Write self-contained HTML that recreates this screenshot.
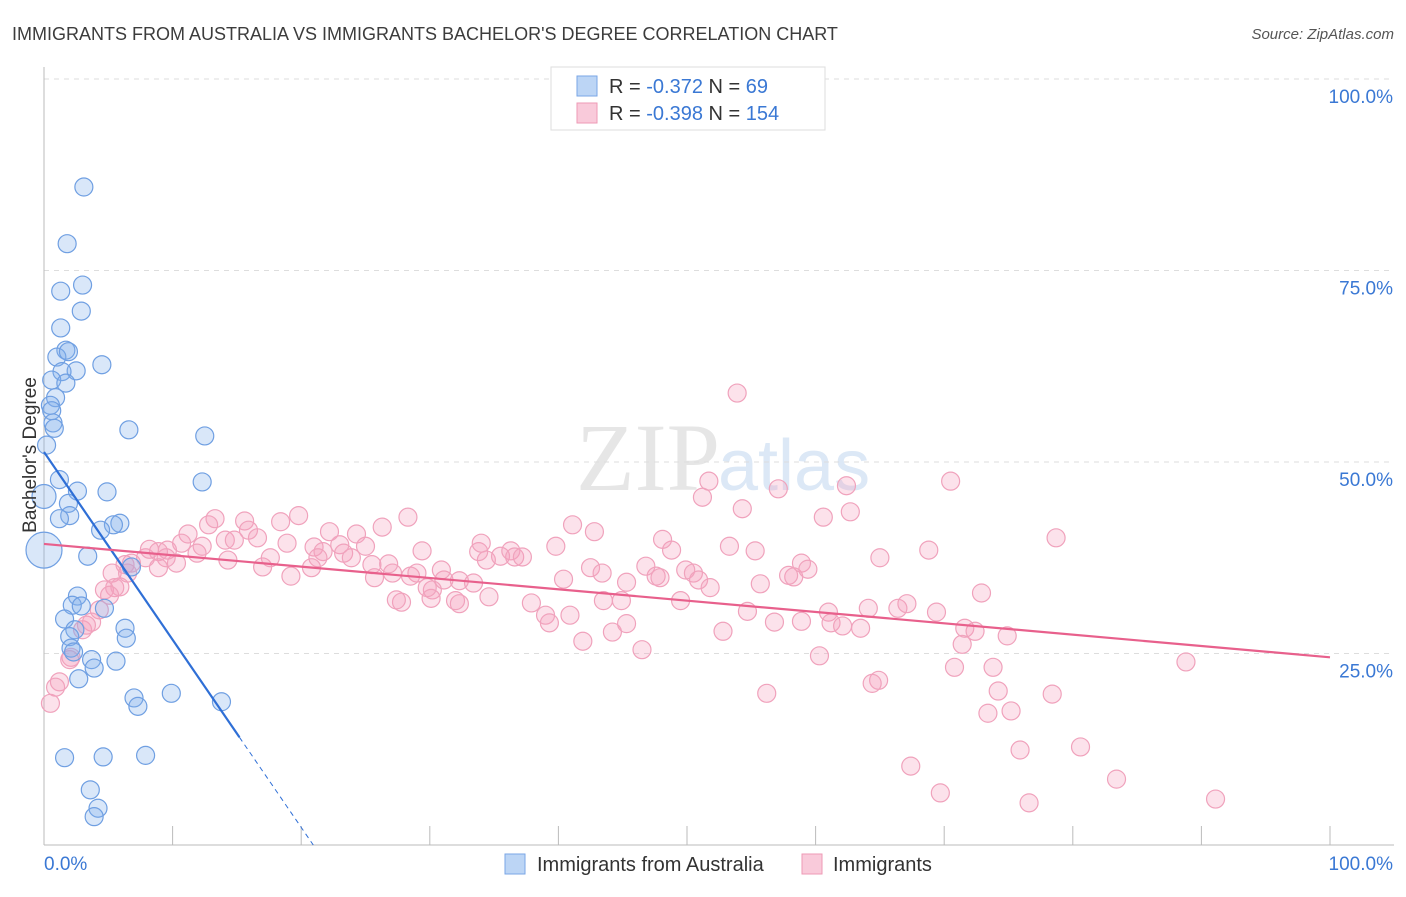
<!DOCTYPE html>
<html><head><meta charset="utf-8"><style>
body{margin:0;background:#fff;font-family:"Liberation Sans",sans-serif;}
</style></head><body>
<svg id="chart" width="1406" height="892" xmlns="http://www.w3.org/2000/svg" style="font-family:'Liberation Sans',sans-serif">
<text x="12" y="40" font-size="18" fill="#3c3c3c">IMMIGRANTS FROM AUSTRALIA VS IMMIGRANTS BACHELOR'S DEGREE CORRELATION CHART</text>
<text x="1394" y="39" font-size="15" fill="#555" text-anchor="end" font-style="italic">Source: ZipAtlas.com</text>
<text x="720" y="490" font-size="96" fill="#e6e6e6" text-anchor="end" font-family="Liberation Serif,serif">ZIP</text>
<text x="718" y="490" font-size="72" fill="#dce8f6">atlas</text>
<g id="grid"></g><g id="axes"></g><g id="pink"></g><g id="blue"></g><g id="lines"></g>
<text x="36" y="455" font-size="19" fill="#333" text-anchor="middle" transform="rotate(-90 36 455)">Bachelor's Degree</text>
<g>
<rect x="551" y="67" width="274" height="63" fill="#fff" stroke="#ddd"/>
<rect x="577" y="76" width="20" height="20" fill="#bcd5f5" stroke="#7aa6e6"/>
<rect x="577" y="103" width="20" height="20" fill="#f9cada" stroke="#ee9ab5"/>
<text x="609" y="93" font-size="20" fill="#333">R = <tspan fill="#3a78d4">-0.372</tspan>   N = <tspan fill="#3a78d4"> 69</tspan></text>
<text x="609" y="120" font-size="20" fill="#333">R = <tspan fill="#3a78d4">-0.398</tspan>   N = <tspan fill="#3a78d4">154</tspan></text>
</g>
<g>
<rect x="505" y="854" width="20" height="20" fill="#bcd5f5" stroke="#7aa6e6"/>
<text x="537" y="871" font-size="20" fill="#333">Immigrants from Australia</text>
<rect x="802" y="854" width="20" height="20" fill="#f9cada" stroke="#ee9ab5"/>
<text x="833" y="871" font-size="20" fill="#333">Immigrants</text>
</g>
</svg>
<script>
const yTicks=[25,50,75,100];
const yTickLabels=["25.0%","50.0%","75.0%","100.0%"];
const xTicks=[0,10,20,30,40,50,60,70,80,90,100];
const blueX=[3.1,1.8,1.3,3.0,2.9,1.3,1.7,1.0,1.9,2.5,1.4,4.5,0.6,1.7,0.9,0.5,0.6,0.7,0.8,6.6,12.5,0.2,1.2,12.3,2.6,4.9,1.9,2.0,1.2,5.9,5.4,4.4,0,3.4,6.8,2.6,2.2,2.9,4.7,1.6,6.3,2.4,2.0,6.4,2.1,2.3,3.7,5.6,3.9,2.7,7.0,7.3,9.9,13.8,1.6,4.6,7.9,3.6,4.2,3.9,0];
const blueY=[85.9,78.5,72.3,73.1,69.7,67.5,64.6,63.7,64.4,61.9,61.8,62.7,60.7,60.3,58.4,57.4,56.7,55.1,54.4,54.2,53.4,52.2,47.7,47.4,46.2,46.1,44.6,43.0,42.6,42.0,41.8,41.1,38.5,37.7,36.3,32.5,31.3,31.2,30.9,29.5,28.3,28.1,27.2,27.0,25.7,25.2,24.2,24.0,23.1,21.7,19.2,18.1,19.8,18.7,11.4,11.5,11.7,7.2,4.8,3.7,45.5];
const blueSize=blueX.map((v,i)=>i===32?18:(i===60?12:9));
const pinkX=[53.9,51.7,51.2,70.5,57.1,62.4,54.3,62.7,60.6,78.7,41.1,42.8,28.3,26.3,19.8,13.3,15.6,15.9,12.8,18.4,11.2,14.1,14.8,22.2,24.3,21.0,23.0,23.3,25.0,16.6,18.9,12.3,10.7,11.9,9.6,8.9,7.9,8.2,10.3,14.3,9.5,17.0,17.6,21.7,21.3,23.9,25.5,26.8,29.4,27.1,25.7,19.2,20.8,29.0,30.9,32.3,33.4,34.4,33.8,35.5,36.3,36.6,37.2,39.8,34.0,28.5,30.2,31.1,40.4,42.5,43.4,45.3,46.8,47.6,47.9,48.8,48.1,49.9,50.5,50.9,53.3,55.3,55.7,58.3,58.9,57.9,59.4,65.0,68.8,51.8,45.3,44.2,44.9,43.5,37.9,34.6,32.3,30.1,29.8,27.8,27.4,32.0,39.0,39.3,40.9,49.5,54.7,56.8,58.9,61.0,61.2,62.1,63.5,64.1,66.4,67.1,69.4,71.6,72.9,72.4,74.9,70.8,73.8,71.4,41.9,46.5,52.8,60.3,64.9,64.4,56.2,74.2,78.4,88.8,73.4,75.2,75.9,80.6,67.4,69.7,76.6,83.4,91.1,5.3,6.3,6.5,5.5,4.7,4.3,5.9,3.0,3.7,2.1,2.0,1.2,0.9,0.5,6.8,8.9,5.1,3.3];
const pinkY=[59.0,47.5,45.4,47.5,46.5,46.9,43.9,43.5,42.8,40.1,41.8,40.9,42.8,41.5,43.0,42.6,42.3,41.1,41.8,42.2,40.6,39.8,39.8,40.9,40.6,38.9,39.2,38.1,39.0,40.1,39.4,39.0,39.4,38.1,38.5,38.3,37.5,38.6,36.8,37.2,37.5,36.3,37.5,38.3,37.5,37.5,36.6,36.7,38.4,35.5,34.9,35.1,36.2,35.5,35.9,34.5,34.2,37.2,38.3,37.7,38.4,37.6,37.6,39.0,39.4,35.1,33.3,34.6,34.7,36.2,35.5,34.3,36.4,35.1,34.9,38.5,39.9,35.9,35.5,34.6,39.0,38.4,34.1,35.0,36.8,35.2,36.0,37.5,38.5,33.6,28.9,27.8,31.9,31.9,31.6,32.4,31.5,32.2,33.6,31.7,32.0,31.9,30.0,29.0,30.0,31.9,30.5,29.1,29.2,30.4,29.0,28.6,28.3,30.9,30.9,31.5,30.4,28.3,32.9,27.9,27.3,23.2,23.2,26.2,26.6,25.5,27.9,24.7,21.5,21.1,19.8,20.1,19.7,23.9,17.2,17.5,12.4,12.8,10.3,6.8,5.5,8.6,6.0,35.5,36.6,35.5,33.6,33.3,30.7,33.7,28.1,29.1,24.5,24.2,21.3,20.6,18.5,36.8,36.2,32.6,28.7];
const blueFit=[51.3,-2.45];
const pinkFit=[39.3,-0.148];
const NS='http://www.w3.org/2000/svg';
const X0=44,X1=1330,Y0=845,Y1=79;
function sx(v){return X0+(X1-X0)*v/100;}
function sy(v){return Y0-(Y0-Y1)*v/100;}
function mk(tag,attrs,parent){const e=document.createElementNS(NS,tag);for(const k in attrs)e.setAttribute(k,attrs[k]);document.getElementById(parent).appendChild(e);return e;}
let g=mk('line',{x1:X0,x2:1394,y1:sy(100),y2:sy(100),stroke:'#ddd','stroke-dasharray':'5,5'},'grid');


yTicks.forEach((t,i)=>{
 const l=mk('line',{x1:X0,x2:1394,y1:sy(t),y2:sy(t),stroke:'#ddd','stroke-dasharray':'5,5'},'grid');
 
 
 const tx=mk('text',{x:1393,y:sy(t)+24,'font-size':19,fill:'#3a78d4','text-anchor':'end'},'axes');
 tx.textContent=yTickLabels[i];
 
 
});
let ax=mk('line',{x1:X0,x2:X0,y1:67,y2:Y0,stroke:'#bbb'},'axes');


let bx=mk('line',{x1:X0,x2:1394,y1:Y0,y2:Y0,stroke:'#bbb'},'axes');


xTicks.forEach(t=>{
 const l=mk('line',{x1:sx(t),x2:sx(t),y1:Y0,y2:826,stroke:'#bbb'},'axes');
 
 
});
let xl=mk('text',{x:44,y:870,'font-size':19,fill:'#3a78d4'},'axes');xl.textContent='0.0%';


let xr=mk('text',{x:1393,y:870,'font-size':19,fill:'#3a78d4','text-anchor':'end'},'axes');xr.textContent='100.0%';


pinkX.forEach((v,i)=>{
 const c=mk('circle',{cx:sx(v),cy:sy(pinkY[i]),r:9,fill:'rgba(244,160,190,0.3)',stroke:'#f0a2bc','stroke-width':1.2},'pink');
 
 
});
blueX.forEach((v,i)=>{
 const c=mk('circle',{cx:sx(v),cy:sy(blueY[i]),r:blueSize[i],fill:'rgba(130,175,235,0.3)',stroke:'#6f9fe2','stroke-width':1.2},'blue');
 
 
});
const bEnd=15.2, bZero=-blueFit[0]/blueFit[1];
let b1=mk('line',{x1:sx(0),y1:sy(blueFit[0]),x2:sx(bEnd),y2:sy(blueFit[0]+blueFit[1]*bEnd),stroke:'#2f6fd6','stroke-width':2.2},'lines');


let b2=mk('line',{x1:sx(bEnd),y1:sy(blueFit[0]+blueFit[1]*bEnd),x2:sx(bZero),y2:sy(0),stroke:'#2f6fd6','stroke-width':1,'stroke-dasharray':'5,4'},'lines');


let p1=mk('line',{x1:sx(0),y1:sy(pinkFit[0]),x2:sx(100),y2:sy(pinkFit[0]+pinkFit[1]*100),stroke:'#e8608c','stroke-width':2.2},'lines');


</script>
</body></html>
